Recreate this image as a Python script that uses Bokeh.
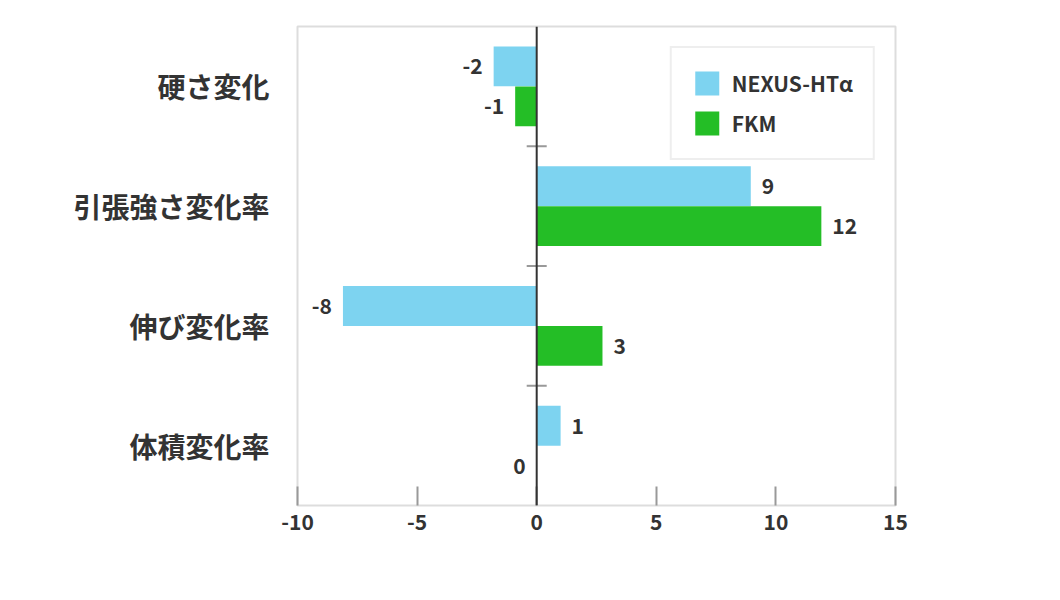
from bokeh.plotting import figure
from bokeh.models import FactorRange, Range1d, Span, ColumnDataSource, FixedTicker
from bokeh.transform import dodge
from bokeh.core.properties import value
from bokeh.embed import file_html
from bokeh.resources import INLINE

categories = ["硬さ変化", "引張強さ変化率", "伸び変化率", "体積変化率"]
series_names = ["NEXUS-HTα", "FKM"]
nexus_values = [-1.8, 8.95, -8.1, 1.0]
fkm_values = [-0.9, 11.9, 2.75, 0.0]
x_ticks = [-10, -5, 0, 5, 10, 15]

colors = ["#7dd3f0", "#24be26"]
FONT = "Noto Sans CJK JP"
TEXT = "#333333"

p = figure(
    y_range=FactorRange(factors=list(reversed(categories))),
    x_range=Range1d(-10, 15),
    frame_width=598, frame_height=479,
    min_border_left=297, min_border_top=26, min_border_right=130, min_border_bottom=60,
    output_backend="svg", toolbar_location=None,
    background_fill_color="white", border_fill_color="white",
)
p.outline_line_color = "#dddddd"
p.outline_line_width = 2
p.grid.visible = False

offsets = [1 / 6, -1 / 6]
for name, vals, col, off in zip(series_names, [nexus_values, fkm_values], colors, offsets):
    src = ColumnDataSource(dict(cat=categories, v=vals))
    p.hbar(y=dodge("cat", off, range=p.y_range), left=0, right="v", height=1 / 3,
           source=src, fill_color=col, line_color=None, legend_label=name)
    pos = [(c, v) for c, v in zip(categories, vals) if v > 0]
    neg = [(c, v) for c, v in zip(categories, vals) if v <= 0]
    for items, align, xo in [(pos, "left", 11), (neg, "right", -11)]:
        if not items:
            continue
        s = ColumnDataSource(dict(cat=[c for c, _ in items], v=[v for _, v in items],
                                  t=[str(int(round(v))) for _, v in items]))
        p.text(x="v", y=dodge("cat", off, range=p.y_range), text="t", source=s,
               text_align=align, text_baseline="middle", x_offset=xo,
               text_font=value(FONT), text_font_style="bold", text_font_size="21px",
               text_color=TEXT)

# category separators drawn on the zero line
sep = ColumnDataSource(dict(cat=categories[:-1], x=[0] * (len(categories) - 1)))
p.scatter(x="x", y=dodge("cat", -0.5, range=p.y_range), source=sep, marker="dash",
          size=20, line_color="#999999", line_width=2)

p.add_layout(Span(location=0, dimension="height", line_color="#333333", line_width=2))

xa = p.xaxis[0]
xa.ticker = FixedTicker(ticks=x_ticks)
xa.major_label_overrides = {t: str(t) for t in x_ticks}
xa.axis_line_color = None
xa.major_tick_in = 19
xa.major_tick_out = 0
xa.major_tick_line_color = "#999999"
xa.major_tick_line_width = 2
xa.minor_tick_line_color = None
xa.major_label_standoff = 8
xa.major_label_text_font = FONT
xa.major_label_text_font_style = "bold"
xa.major_label_text_font_size = "21px"
xa.major_label_text_color = TEXT

ya = p.yaxis[0]
ya.axis_line_color = None
ya.major_tick_in = 0
ya.major_tick_out = 0
ya.major_label_standoff = 28
ya.major_label_text_font = FONT
ya.major_label_text_font_style = "bold"
ya.major_label_text_font_size = "28px"
ya.major_label_text_color = TEXT

lg = p.legend[0]
lg.location = "top_right"
lg.margin = 20
lg.padding = 20
lg.spacing = 10
lg.glyph_width = 30
lg.glyph_height = 30
lg.label_standoff = 10
lg.label_text_font = FONT
lg.label_text_font_style = "bold"
lg.label_text_font_size = "21px"
lg.label_text_color = TEXT
lg.border_line_color = "#dddddd"
lg.border_line_width = 2
lg.background_fill_alpha = 1.0

open("out.html", "w").write(file_html(p, INLINE))
